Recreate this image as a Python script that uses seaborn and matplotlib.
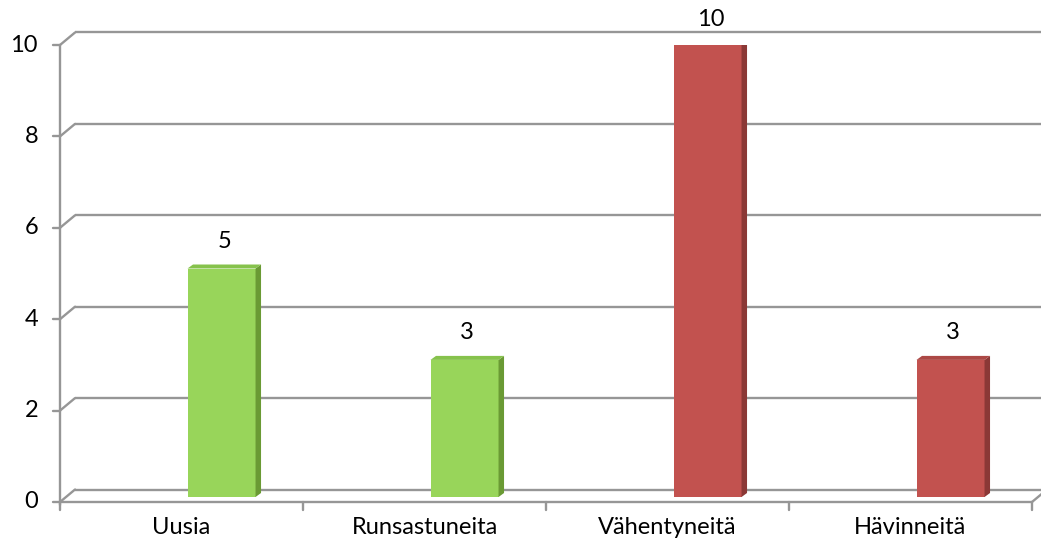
import matplotlib
matplotlib.use("Agg")
import matplotlib.pyplot as plt
from matplotlib.patches import Polygon
import seaborn as sns

# Data
categories = ["Uusia", "Runsastuneita", "Vähentyneitä", "Hävinneitä"]
values = [5, 3, 10, 3]
y_ticks = [0, 2, 4, 6, 8, 10]

# Colours (front, side, top) per group
GREEN = ("#98D55A", "#6A9A34", "#86C24C")
RED = ("#C2524F", "#8B3836", "#AC4845")
bar_styles = [GREEN, GREEN, RED, RED]

sns.set_theme(style="white")
plt.rcParams["font.family"] = ["Lato", "DejaVu Sans"]
FS = 17

W, H = 1041, 551
fig = plt.figure(figsize=(W / 100, H / 100), dpi=100)
AX_L, AX_B, AX_W, AX_H = 60, 49, 972, 457
ax = fig.add_axes([AX_L / W, AX_B / H, AX_W / W, AX_H / H])

XMIN, XMAX, YMIN, YMAX = -0.5, 3.5, 0, 10
PX_X = (XMAX - XMIN) / AX_W   # data units per pixel
PX_Y = (YMAX - YMIN) / AX_H

# depth offsets (pixels)
BACK = (15, 12.5)    # back wall relative to front axis plane
PLANE = (6, 5)       # bar front faces relative to front axis plane
DEPTH = (5.5, 4)     # bar thickness

GRID = "#969696"
LW = 1.7

# Bars
pal = {c: s[0] for c, s in zip(categories, bar_styles)}
sns.barplot(x=categories, y=values, hue=categories, palette=pal, legend=False,
            width=0.28, saturation=1, ax=ax, zorder=3)

ax.set_xlim(XMIN, XMAX)
ax.set_ylim(YMIN, YMAX)
ax.axis("off")

# Back wall gridlines with diagonal connectors to the front axis
for t in y_ticks:
    bx, by = XMIN + BACK[0] * PX_X, t + BACK[1] * PX_Y
    ax.plot([bx, XMAX + 30 * PX_X], [by, by], color=GRID, lw=LW,
            clip_on=False, zorder=1, solid_capstyle="butt")
    ax.plot([XMIN, bx], [t, by], color=GRID, lw=LW, clip_on=False, zorder=1)
    ax.plot([XMIN - 7 * PX_X, XMIN], [t, t], color=GRID, lw=LW,
            clip_on=False, zorder=1)
    ax.text(XMIN - 22 * PX_X, t, str(t), ha="right", va="center",
            fontsize=FS, color="#000000")

# Front axis lines
ax.plot([XMIN, XMIN], [-3 * PX_Y, YMAX], color=GRID, lw=LW, clip_on=False, zorder=1)
ax.plot([XMIN, XMAX], [0, 0], color=GRID, lw=LW, clip_on=False, zorder=2)
ax.plot([XMAX, XMAX + BACK[0] * PX_X], [0, BACK[1] * PX_Y], color=GRID, lw=LW,
        clip_on=False, zorder=1)
for b in [-0.5, 0.5, 1.5, 2.5, 3.5]:
    ax.plot([b, b], [0, -8 * PX_Y], color=GRID, lw=LW, clip_on=False, zorder=1)

# Category labels
for i, c in enumerate(categories):
    ax.text(i, -26 * PX_Y, c, ha="center", va="center", fontsize=FS, color="#000000")

# 3D faces and value labels
dx, dy = DEPTH[0] * PX_X, DEPTH[1] * PX_Y
label_cap = YMAX + 25 * PX_Y
for patch, style, v in zip(ax.patches, bar_styles, values):
    patch.set_x(patch.get_x() + 0.14 + PLANE[0] * PX_X)
    patch.set_y(PLANE[1] * PX_Y)
    patch.set_edgecolor("none")
    xl = patch.get_x()
    xr = xl + patch.get_width()
    y0 = patch.get_y()
    y1 = y0 + patch.get_height()
    side = Polygon([(xr, y0), (xr + dx, y0 + dy), (xr + dx, y1 + dy), (xr, y1)],
                   closed=True, facecolor=style[1], edgecolor="none", zorder=3)
    top = Polygon([(xl, y1), (xl + dx, y1 + dy), (xr + dx, y1 + dy), (xr, y1)],
                  closed=True, facecolor=style[2], edgecolor="none", zorder=3)
    ax.add_patch(side)
    ax.add_patch(top)
    ly = min(y1 + dy + 23 * PX_Y, label_cap)
    ax.text((xl + xr) / 2 + dx / 2, ly, str(v), ha="center",
            va="center", fontsize=FS, color="#000000", clip_on=False)

fig.savefig("out.png", dpi=100)
